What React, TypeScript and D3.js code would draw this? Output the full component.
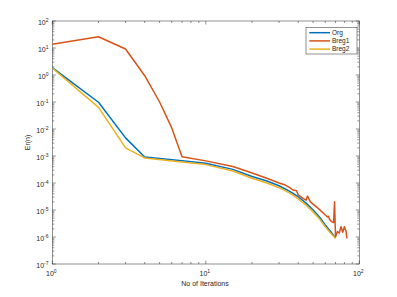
import React from 'react';
import * as d3 from 'd3';

// iterations and errors
const orgX = [1, 2, 3, 4, 7, 10, 15, 20, 25, 30, 35, 40, 45, 50, 55, 60, 65, 70];
const orgY = [1.86, 0.098, 0.0047, 9.2e-4, 6.7e-4, 5.4e-4, 3.2e-4, 1.75e-4, 1.18e-4, 7.9e-5, 5.0e-5, 3.1e-5, 1.8e-5, 1.0e-5, 5.5e-6, 2.8e-6, 1.6e-6, 9.3e-7];

const breg1X = [1, 2, 3, 4, 5, 6, 7, 10, 15, 19, 25, 30, 33, 35, 37, 39, 40, 43, 45, 46, 48, 54, 60, 62, 63, 64, 66, 68, 69, 70, 72, 74, 76, 78, 80, 82, 83];
const breg1Y = [13.7, 26, 9.2, 0.94, 0.1, 0.011, 9.3e-4, 6.6e-4, 4.1e-4, 2.6e-4, 1.5e-4, 1.0e-4, 8.4e-5, 6.9e-5, 5.5e-5, 5.2e-5, 3.6e-5, 2.7e-5, 2.3e-5, 3.3e-5, 2.0e-5, 1.15e-5, 6.5e-6, 5.5e-6, 5.9e-6, 4.5e-6, 3.7e-6, 3.4e-6, 2.0e-5, 1.0e-6, 1.6e-6, 1.4e-6, 2.4e-6, 1.5e-6, 2.4e-6, 1.6e-6, 8.9e-7];

const breg2X = [1, 2, 3, 4, 7, 10, 15, 20, 25, 30, 35, 40, 45, 50, 55, 60, 65, 70];
const breg2Y = [1.8, 0.063, 0.002, 8.5e-4, 6.0e-4, 4.8e-4, 2.8e-4, 1.5e-4, 1.0e-4, 6.7e-5, 4.3e-5, 2.6e-5, 1.5e-5, 8.5e-6, 4.7e-6, 2.4e-6, 1.4e-6, 8.8e-7];

const seriesNames = ['Org', 'Breg1', 'Breg2'];
const colors = ['#0072BD', '#D95319', '#EDB120'];

const W = 397, H = 297;
const left = 52.3, right = 359.3, top = 21, bottom = 264;
const font = 'Liberation Sans, Arial, sans-serif';
const axisColor = '#262626';

const App = () => {
  const x = d3.scaleLog().domain([1, 100]).range([left, right]);
  const y = d3.scaleLog().domain([1e-7, 1e2]).range([bottom, top]);

  const line = d3.line<[number, number]>()
    .x(d => x(d[0]))
    .y(d => y(d[1]));

  const series = [
    orgX.map((v, i) => [v, orgY[i]] as [number, number]),
    breg1X.map((v, i) => [v, breg1Y[i]] as [number, number]),
    breg2X.map((v, i) => [v, breg2Y[i]] as [number, number]),
  ];

  const isMajor = (v: number) => Math.abs(Math.log10(v) - Math.round(Math.log10(v))) < 1e-9;
  const xTicks = x.ticks();
  const yTicks = y.ticks();
  const maj = 3.5, min = 2;

  return (
    <svg width={W} height={H} style={{ position: 'absolute', left: 0, top: 0 }}>
      <rect width={W} height={H} fill="#fff" />
      <defs>
        <clipPath id="plot">
          <rect x={left} y={top} width={right - left} height={bottom - top} />
        </clipPath>
      </defs>

      {/* ticks, inside on all four sides */}
      <g stroke={axisColor} strokeWidth={0.5}>
        {xTicks.map((t, i) => {
          const l = isMajor(t) ? maj : min;
          return (
            <g key={'x' + i}>
              <line x1={x(t)} x2={x(t)} y1={bottom} y2={bottom - l} />
              <line x1={x(t)} x2={x(t)} y1={top} y2={top + l} />
            </g>
          );
        })}
        {yTicks.map((t, i) => {
          const l = isMajor(t) ? maj : min;
          return (
            <g key={'y' + i}>
              <line x1={left} x2={left + l} y1={y(t)} y2={y(t)} />
              <line x1={right} x2={right - l} y1={y(t)} y2={y(t)} />
            </g>
          );
        })}
        <rect x={left} y={top} width={right - left} height={bottom - top} fill="none" />
      </g>

      {/* tick labels */}
      <g fontFamily={font} fill={axisColor}>
        {xTicks.filter(isMajor).map((t, i) => (
          <text key={'xl' + i} x={x(t) - 1} y={276} fontSize={7} textAnchor="middle">
            10<tspan fontSize={5} dy={-3}>{Math.round(Math.log10(t))}</tspan>
          </text>
        ))}
        {yTicks.filter(isMajor).map((t, i) => (
          <text key={'yl' + i} x={48.5} y={y(t) + 3.5} fontSize={7} textAnchor="end">
            10<tspan fontSize={5} dy={-3}>{Math.round(Math.log10(t))}</tspan>
          </text>
        ))}
        <text x={205} y={286} fontSize={7} textAnchor="middle">No of Iterations</text>
        <text transform={`translate(30,${(top + bottom) / 2}) rotate(-90)`} fontSize={7} textAnchor="middle">Er(n)</text>
      </g>

      {/* lines */}
      <g clipPath="url(#plot)" fill="none" strokeWidth={1.5} strokeLinejoin="round">
        {series.map((s, i) => (
          <path key={seriesNames[i]} d={line(s) || ''} stroke={colors[i]} />
        ))}
      </g>

      {/* legend */}
      <g fontFamily={font}>
        <rect x={306} y={27.3} width={51} height={26.7} fill="#fff" stroke={axisColor} strokeWidth={0.5} />
        {seriesNames.map((n, i) => {
          const ly = 32.7 + i * 8.2;
          return (
            <g key={n}>
              <line x1={309.3} x2={330} y1={ly} y2={ly} stroke={colors[i]} strokeWidth={1.5} />
              <text x={332} y={ly + 2.3} fontSize={6.5} fill={axisColor}>{n}</text>
            </g>
          );
        })}
      </g>
    </svg>
  );
};

export default App;
